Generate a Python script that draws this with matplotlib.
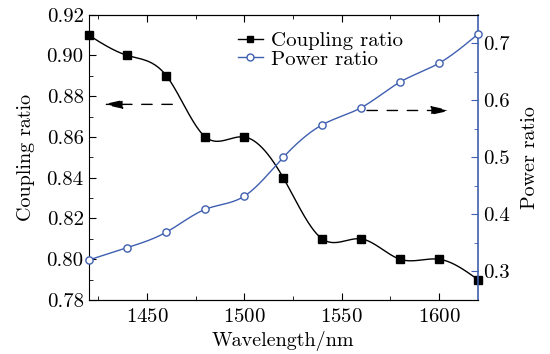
import numpy as np
import matplotlib
matplotlib.use("Agg")
import matplotlib.pyplot as plt
from matplotlib.ticker import MultipleLocator, FormatStrFormatter
from matplotlib.lines import Line2D

plt.rcParams['font.family'] = ['cmr10', 'DejaVu Serif']
plt.rcParams['mathtext.fontset'] = 'cm'
plt.rcParams['axes.formatter.use_mathtext'] = True

wavelength = [1420, 1440, 1460, 1480, 1500, 1520, 1540, 1560, 1580, 1600, 1620]
coupling_ratio = [0.91, 0.90, 0.89, 0.86, 0.86, 0.84, 0.81, 0.81, 0.80, 0.80, 0.79]
power_ratio = [0.32, 0.342, 0.369, 0.409, 0.432, 0.50, 0.557, 0.587, 0.632, 0.665, 0.716]

BLUE = '#3f5fb0'


def natural_spline(x, y, n=400):
    x = np.asarray(x, float)
    y = np.asarray(y, float)
    m = len(x)
    h = np.diff(x)
    A = np.zeros((m, m))
    b = np.zeros(m)
    A[0, 0] = 1
    A[-1, -1] = 1
    for i in range(1, m - 1):
        A[i, i - 1] = h[i - 1]
        A[i, i] = 2 * (h[i - 1] + h[i])
        A[i, i + 1] = h[i]
        b[i] = 3 * ((y[i + 1] - y[i]) / h[i] - (y[i] - y[i - 1]) / h[i - 1])
    c = np.linalg.solve(A, b)
    xs = np.linspace(x[0], x[-1], n)
    idx = np.clip(np.searchsorted(x, xs) - 1, 0, m - 2)
    dx = xs - x[idx]
    bb = (y[idx + 1] - y[idx]) / h[idx] - h[idx] * (2 * c[idx] + c[idx + 1]) / 3
    dd = (c[idx + 1] - c[idx]) / (3 * h[idx])
    ys = y[idx] + bb * dx + c[idx] * dx ** 2 + dd * dx ** 3
    return xs, ys


fig = plt.figure(figsize=(5.5, 3.54), dpi=100)
ax = fig.add_axes([0.161, 0.1525, 0.708, 0.806])
ax2 = ax.twinx()

xs, ys = natural_spline(wavelength, coupling_ratio)
ax.plot(xs, ys, color='black', lw=1.0, zorder=3)
ax.plot(wavelength, coupling_ratio, ls='none', marker='s', ms=5.2, color='black',
        clip_on=False, zorder=4)

xs2, ys2 = natural_spline(wavelength, power_ratio)
ax2.plot(xs2, ys2, color=BLUE, lw=1.0, zorder=3)
ax2.plot(wavelength, power_ratio, ls='none', marker='o', ms=5.2, mfc='white',
         mec=BLUE, mew=1.0, clip_on=False, zorder=4)

ax.set_xlim(1420, 1620)
ax.set_ylim(0.78, 0.92)
ax2.set_ylim(0.25, 0.75)

ax.xaxis.set_major_locator(MultipleLocator(50))
ax.xaxis.set_minor_locator(MultipleLocator(25))
ax.yaxis.set_major_locator(MultipleLocator(0.02))
ax.yaxis.set_minor_locator(MultipleLocator(0.01))
ax2.yaxis.set_major_locator(MultipleLocator(0.1))
ax2.yaxis.set_minor_locator(MultipleLocator(0.05))
ax.yaxis.set_major_formatter(FormatStrFormatter('%.2f'))
ax2.yaxis.set_major_formatter(FormatStrFormatter('%.1f'))

ax.tick_params(axis='both', which='both', direction='in', labelsize=15, color='black')
ax.tick_params(which='major', length=5)
ax.tick_params(which='minor', length=3)
ax.tick_params(axis='x', top=True, which='both', pad=6)
ax.tick_params(axis='y', right=False, which='both')
ax2.tick_params(axis='y', which='both', direction='in', labelsize=15, color=BLUE)
ax2.tick_params(which='major', length=5)
ax2.tick_params(which='minor', length=3)

for s in ['left', 'bottom', 'top']:
    ax.spines[s].set_color('black')
ax2.spines['right'].set_color(BLUE)
ax2.spines['right'].set_linewidth(1.2)
ax2.spines['left'].set_visible(False)
ax.spines['right'].set_visible(False)

ax.set_xlabel('Wavelength/nm', fontsize=14.5, labelpad=3)
ax.set_ylabel('Coupling ratio', fontsize=14.5, labelpad=8)
ax2.set_ylabel('Power ratio', fontsize=14.5, labelpad=8)

arrow_style = dict(arrowstyle='-|>,head_length=0.9,head_width=0.2', ls=(0, (7.5, 7)),
                   color='black', lw=1.0, mutation_scale=13, shrinkA=0, shrinkB=0)
ax.annotate('', xy=(1427.5, 0.876), xytext=(1463, 0.876), arrowprops=arrow_style)
ax.annotate('', xy=(1606, 0.873), xytext=(1563, 0.873), arrowprops=arrow_style)

h1 = Line2D([], [], color='black', marker='s', ms=5, lw=1.0)
h2 = Line2D([], [], color=BLUE, marker='o', ms=5, mfc='white', mec=BLUE, lw=1.0)
ax.legend([h1, h2], ['Coupling ratio', 'Power ratio'], loc='upper left',
          bbox_to_anchor=(0.34, 1.0), frameon=False, fontsize=15,
          handlelength=1.2, handletextpad=0.4, labelspacing=0.0, borderpad=0.3)

fig.savefig('out.png', dpi=100)
